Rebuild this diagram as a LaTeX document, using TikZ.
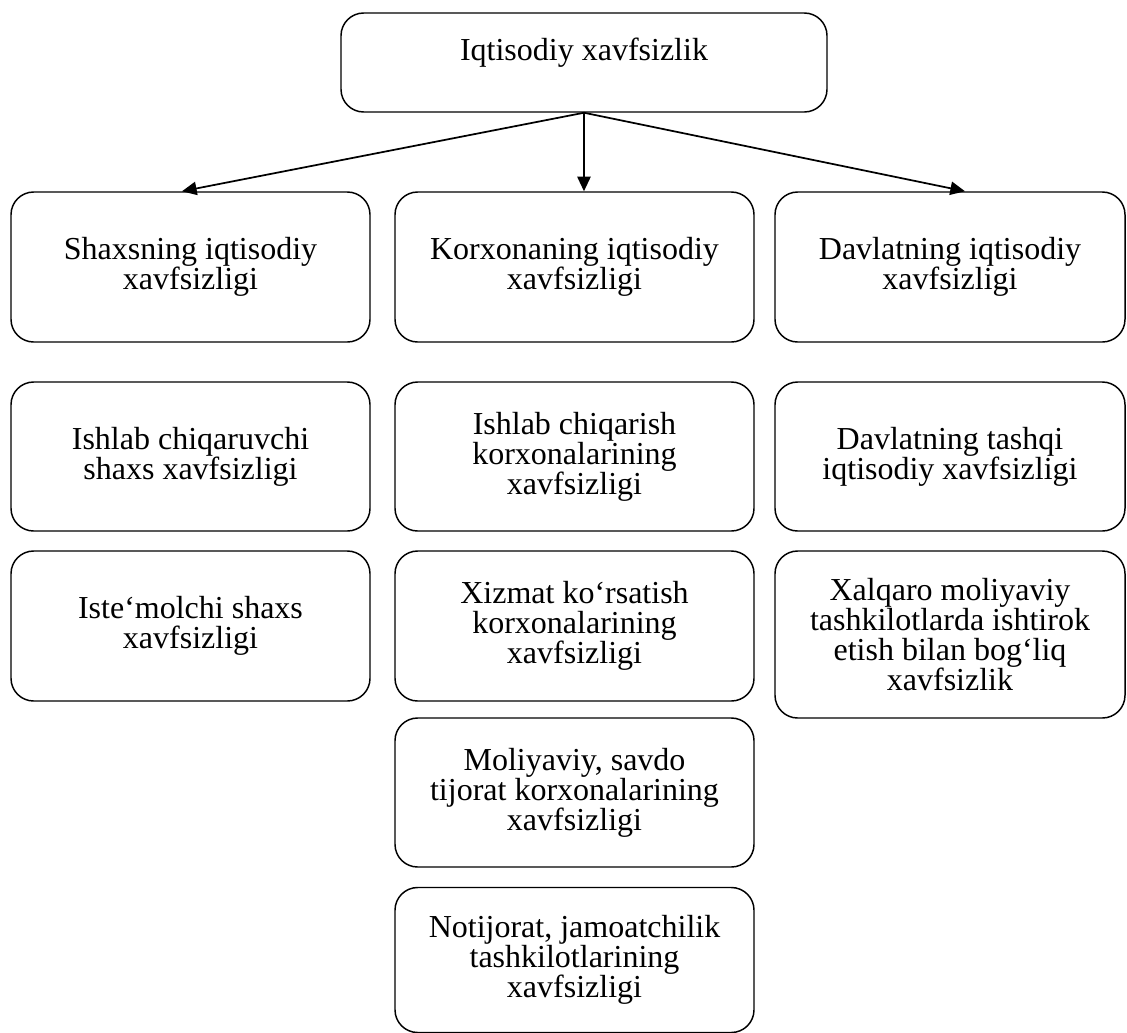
\documentclass[tikz,border=0pt]{standalone}
\usepackage{fontspec}
\setmainfont{Liberation Serif}
\usetikzlibrary{arrows.meta}
\begin{document}
\begin{tikzpicture}[x=0.75pt,y=-0.75pt,
  box/.style={draw, rounded corners=17pt, line width=1.1pt, align=center, inner sep=0pt,
    font=\fontsize{24}{22.5}\selectfont},
  colbox/.style={box, minimum width=269.25pt, minimum height=112.5pt},
  conn/.style={line width=1.3pt, -{Triangle[length=11pt,width=10pt]}}]
\useasboundingbox (0,0) rectangle (1127,1032);
% top
\node[box, minimum width=364.5pt, minimum height=74.25pt, font=\fontsize{24}{20.5}\selectfont] (top) at (584,62.5)
  {Iqtisodiy xavfsizlik\\\mbox{}};
% row 1
\node[colbox] (b1) at (190.5,267) {Shaxsning iqtisodiy\\xavfsizligi};
\node[colbox] (m1) at (574.5,267) {Korxonaning iqtisodiy\\xavfsizligi};
\node[colbox, minimum width=262.5pt] (r1) at (950,267) {Davlatning iqtisodiy\\xavfsizligi};
% row 2
\node[colbox, minimum height=111.75pt] (b2) at (190.5,456.5) {Ishlab chiqaruvchi\\shaxs xavfsizligi};
\node[colbox, minimum height=111.75pt] (m2) at (574.5,456.5) {Ishlab chiqarish\\korxonalarining\\xavfsizligi};
\node[colbox, minimum width=262.5pt, minimum height=111.75pt] (r2) at (950,456.5) {Davlatning tashqi\\iqtisodiy xavfsizligi};
% row 3
\node[colbox] (b3) at (190.5,626) {Iste‘molchi shaxs\\xavfsizligi};
\node[colbox] (m3) at (574.5,626) {Xizmat ko‘rsatish\\korxonalarining\\xavfsizligi};
\node[colbox, minimum width=262.5pt, minimum height=125.25pt] (r3) at (950,634.5)
  {Xalqaro moliyaviy\\tashkilotlarda ishtirok\\etish bilan bog‘liq\\xavfsizlik};
% row 4, 5
\node[colbox, minimum height=111.75pt] (m4) at (574.5,792.5) {Moliyaviy, savdo\\tijorat korxonalarining\\xavfsizligi};
\node[colbox, minimum height=108.75pt] (m5) at (574.5,960) {Notijorat, jamoatchilik\\tashkilotlarining\\xavfsizligi};
% connectors
\draw[conn] (top.south) -- ([xshift=-6.4pt]b1.north);
\draw[conn] (top.south) -- ([xshift=7.1pt]m1.north);
\draw[conn] (top.south) -- ([xshift=11.25pt]r1.north);
\end{tikzpicture}
\end{document}
